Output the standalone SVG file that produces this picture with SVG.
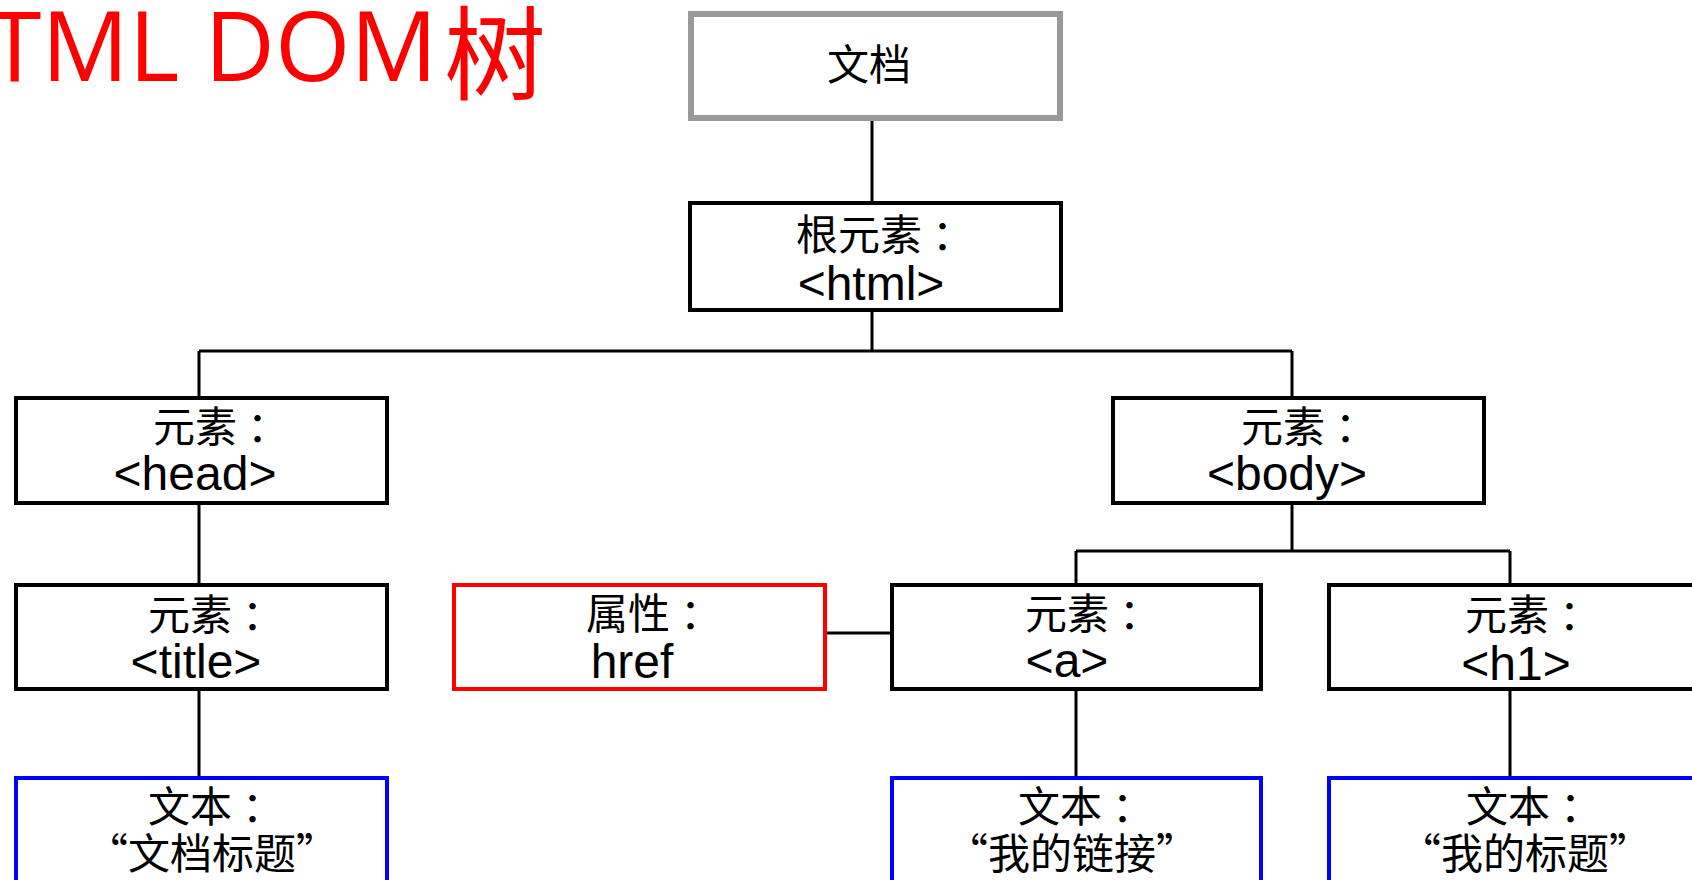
<svg xmlns="http://www.w3.org/2000/svg" width="1692" height="880" viewBox="0 0 1692 880">
<style>
.box{fill:#fff;stroke:#000;stroke-width:4}
.doc{fill:#fff;stroke:#999;stroke-width:6}
.attr{fill:#fff;stroke:#f00;stroke-width:4}
.txt{fill:#fff;stroke:#00f;stroke-width:4}
.cn{font-family:"Noto Sans CJK SC","Noto Sans",sans-serif;font-size:42px;fill:#000}
.en{font-family:"Liberation Sans",Arial,sans-serif;font-size:48px;fill:#000;text-anchor:middle}
.mid{text-anchor:middle}
.conn{stroke:#000;stroke-width:3;fill:none}
</style>
<rect width="1692" height="880" fill="#fff"/>
<text id="title" x="-12" y="81" font-family="'Open Sans','Noto Sans',sans-serif" font-size="97" fill="#f00">TML DOM<tspan x="444" y="92" font-family="'Noto Sans CJK SC',sans-serif" font-size="102">树</tspan></text>
<g id="connectors">
<path class="conn" d="M872 121V201M872 312V351M199 351H1292M199 351V396M1292 351V396M199 505V583M199 691V776M1292 505V551M1076 551H1510M1076 551V583M1510 551V583M827 633H890M1076 691V776M1510 691V776"/>
</g>
<g id="node-document">
<rect class="doc" x="691" y="14" width="369" height="104"/>
<text class="cn mid" x="869" y="80">文档</text>
</g>
<g id="node-html">
<rect class="box" x="690" y="203" width="371" height="107"/>
<text class="cn" x="796" y="250">根元素<tspan dx="10">：</tspan></text>
<text class="en" x="871" y="300">&lt;html&gt;</text>
</g>
<g id="node-head">
<rect class="box" x="16" y="398" width="371" height="105"/>
<text class="cn" x="153" y="442">元素<tspan dx="10">：</tspan></text>
<text class="en" x="195" y="490">&lt;head&gt;</text>
</g>
<g id="node-body">
<rect class="box" x="1113" y="398" width="371" height="105"/>
<text class="cn" x="1241" y="442">元素<tspan dx="10">：</tspan></text>
<text class="en" x="1287" y="490">&lt;body&gt;</text>
</g>
<g id="node-title">
<rect class="box" x="16" y="585" width="371" height="104"/>
<text class="cn" x="148" y="630">元素<tspan dx="10">：</tspan></text>
<text class="en" x="196" y="678">&lt;title&gt;</text>
</g>
<g id="node-href">
<rect class="attr" x="454" y="585" width="371" height="104"/>
<text class="cn" x="586" y="629">属性<tspan dx="10">：</tspan></text>
<text class="en" x="632" y="678">href</text>
</g>
<g id="node-a">
<rect class="box" x="892" y="585" width="369" height="104"/>
<text class="cn" x="1025" y="629">元素<tspan dx="10">：</tspan></text>
<text class="en" x="1067" y="677">&lt;a&gt;</text>
</g>
<g id="node-h1">
<rect class="box" x="1329" y="585" width="371" height="104"/>
<text class="cn" x="1465" y="630">元素<tspan dx="10">：</tspan></text>
<text class="en" x="1516" y="680">&lt;h1&gt;</text>
</g>
<g id="node-text-title">
<rect class="txt" x="16" y="778" width="371" height="140"/>
<text class="cn" x="148" y="822">文本<tspan dx="10">：</tspan></text>
<text class="cn mid" x="212" y="869">“文档标题”</text>
</g>
<g id="node-text-a">
<rect class="txt" x="892" y="778" width="369" height="140"/>
<text class="cn" x="1018" y="822">文本<tspan dx="10">：</tspan></text>
<text class="cn mid" x="1072" y="869">“我的链接”</text>
</g>
<g id="node-text-h1">
<rect class="txt" x="1329" y="778" width="371" height="140"/>
<text class="cn" x="1466" y="822">文本<tspan dx="10">：</tspan></text>
<text class="cn mid" x="1525" y="869">“我的标题”</text>
</g>
</svg>
